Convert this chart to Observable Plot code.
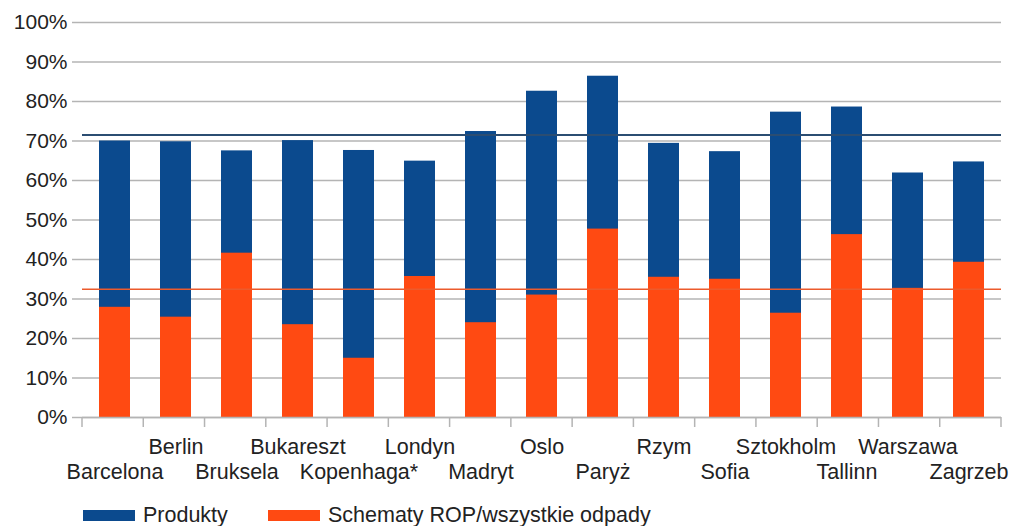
<!DOCTYPE html>
<html>
<head>
<meta charset="utf-8">
<script src="https://cdn.jsdelivr.net/npm/d3@7"></script>
<script src="https://cdn.jsdelivr.net/npm/@observablehq/plot@0.6"></script>
<style>
  html, body { margin: 0; padding: 0; background: #fff; }
  body { width: 1013px; height: 526px; overflow: hidden; position: relative; font-family: "Liberation Sans", Arial, sans-serif; }
  #legend { position: absolute; left: 83px; top: 503px; display: flex; align-items: center; font-size: 21.5px; color: #222; white-space: nowrap; }
  .sw { display: inline-block; width: 52px; height: 11px; margin-right: 8px; }
  .item { display: flex; align-items: center; margin-right: 0; }
</style>
</head>
<body>
<div id="chart"></div>
<div id="legend">
  <span class="item" style="width:185px"><span class="sw" style="background:#0b4a8e"></span>Produkty</span>
  <span class="item"><span class="sw" style="background:#ff4a12"></span>Schematy ROP/wszystkie odpady</span>
</div>
<script>
const cities = ["Barcelona","Berlin","Bruksela","Bukareszt","Kopenhaga*","Londyn","Madryt","Oslo","Paryż","Rzym","Sofia","Sztokholm","Tallinn","Warszawa","Zagrzeb"];
const produkty = [70, 69.8, 67.5, 70.1, 67.6, 64.9, 72.4, 82.6, 86.4, 69.4, 67.3, 77.3, 78.6, 61.9, 64.7];
const rop = [27.9, 25.4, 41.6, 23.5, 15, 35.7, 24, 31, 47.7, 35.5, 35, 26.4, 46.3, 32.7, 39.3];
const avgProdukty = 71.5;
const avgRop = 32.5;
const yTicks = [0,10,20,30,40,50,60,70,80,90,100];

const rows = cities.map((c, i) => ({city: c, produkty: produkty[i], rop: rop[i], row: i % 2}));

const blue = "#0b4a8e";
const orange = "#ff4a12";
const grid = "#b4b4b4";

// tick marks at category boundaries (below the baseline)
function boundaryTicks(index, scales, values, dims) {
  const g = d3.create("svg:g");
  const n = cities.length;
  const x0 = dims.marginLeft, x1 = dims.width - dims.marginRight;
  const y0 = scales.y(0);
  for (let k = 0; k <= n; k++) {
    const x = x0 + (x1 - x0) * k / n;
    g.append("line").attr("x1", x).attr("x2", x).attr("y1", y0).attr("y2", y0 + 10)
      .attr("stroke", grid).attr("stroke-width", 1.5);
  }
  return g.node();
}

const chart = Plot.plot({
  width: 1013,
  height: 496,
  marginLeft: 82,
  marginRight: 12,
  marginTop: 22,
  marginBottom: 79,
  style: {fontFamily: "'Liberation Sans', Arial, sans-serif", fontSize: "21px", color: "#222", background: "#fff"},
  x: {domain: cities, paddingInner: 0.5, paddingOuter: 0.25, axis: null},
  y: {domain: [0, 100], axis: null},
  marks: [
    Plot.gridY(yTicks, {stroke: grid, strokeOpacity: 1, strokeWidth: 1.5}),
    Plot.axisY({ticks: yTicks, tickSize: 10, stroke: grid, strokeWidth: 1.5, tickFormat: d => d + "%", tickPadding: 5, label: null, fontSize: 21, fill: "#222"}),
    Plot.ruleX([0], {frameAnchor: "left", stroke: grid, strokeWidth: 1.5, y1: 0, y2: 100}),
    Plot.ruleX([0], {frameAnchor: "right", stroke: grid, strokeWidth: 1.5, y1: 0, y2: 100}),
    Plot.barY(rows, {x: "city", y: "produkty", fill: blue}),
    Plot.barY(rows, {x: "city", y: "rop", fill: orange}),
    Plot.ruleY([0], {stroke: grid, strokeWidth: 1.5}),
    Plot.ruleY([avgProdukty], {stroke: "#2b4d72", strokeWidth: 2}),
    Plot.ruleY([avgRop], {stroke: "#ec5a2c", strokeWidth: 1.5}),
    boundaryTicks,
    Plot.text(rows.filter(d => d.row === 1), {x: "city", y: 0, text: "city", dy: 30, fontSize: 21.5, fill: "#222"}),
    Plot.text(rows.filter(d => d.row === 0), {x: "city", y: 0, text: "city", dy: 55, fontSize: 21.5, fill: "#222"})
  ]
});
document.getElementById("chart").appendChild(chart);
</script>
</body>
</html>
